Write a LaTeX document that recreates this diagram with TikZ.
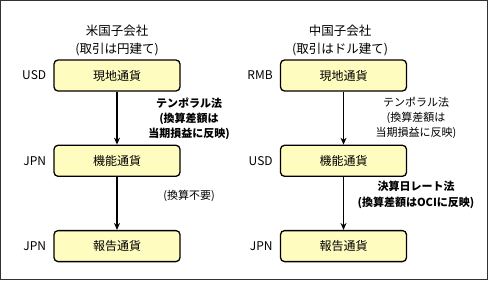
\documentclass[tikz,border=0pt]{standalone}
\usepackage{fontspec}
\setmainfont{Noto Sans CJK JP}
\usetikzlibrary{arrows.meta,positioning}

\begin{document}
\begin{tikzpicture}[
x=1pt, y=-1pt,
node distance=53pt and 7pt,
box/.style={draw, line width=1.3pt, rounded corners=4pt, fill=yellow!25, minimum width=126pt, minimum height=31pt, inner sep=0pt, font=\fontsize{12}{14}\selectfont},
cur/.style={font=\fontsize{12}{14}\selectfont, inner sep=0pt},
title/.style={align=center, font=\fontsize{12.5}{18}\selectfont, inner sep=0pt},
note/.style={align=center, font=\fontsize{11}{15}\selectfont, inner sep=0pt},
arrow/.style={-{Stealth[length=7pt,width=6pt]}, line width=1.3pt}
]
\useasboundingbox (0,0) rectangle (490,281);
\draw[line width=1pt, black!80] (0.5,0.5) rectangle (487.5,279.5);

% left column
\node[title] (titL) at (117,40) {米国子会社\\(取引は円建て)};
\node[box] (locL) at (117,75.5) {現地通貨};
\node[box, below=of locL] (funL) {機能通貨};
\node[box, below=of funL] (repL) {報告通貨};
\node[cur, left=of locL] (curL1) {USD};
\node[cur, left=of funL] (curL2) {JPN};
\node[cur, left=of repL] (curL3) {JPN};
\draw[arrow] (locL) -- (funL);
\draw[arrow] (funL) -- (repL);
\node[note, font=\bfseries\fontsize{11}{15}\selectfont] (tempL) at (189,118.5) {テンポラル法\\(換算差額は\\当期損益に反映)};
\node[note] (noneL) at (189,196) {(換算不要)};

% right column
\node[title] (titR) at (340,40) {中国子会社\\(取引はドル建て)};
\node[box] (locR) at (343.5,75.5) {現地通貨};
\node[box, below=of locR] (funR) {機能通貨};
\node[box, below=of funR] (repR) {報告通貨};
\node[cur, left=of locR] (curR1) {RMB};
\node[cur, left=of funR] (curR2) {USD};
\node[cur, left=of repR] (curR3) {JPN};
\draw[arrow] (locR) -- (funR);
\draw[arrow] (funR) -- (repR);
\node[note] (tempR) at (416,118) {テンポラル法\\(換算差額は\\当期損益に反映)};
\node[note, font=\bfseries\fontsize{11}{16}\selectfont] (closeR) at (416,195) {決算日レート法\\(換算差額はOCIに反映)};
\end{tikzpicture}
\end{document}
